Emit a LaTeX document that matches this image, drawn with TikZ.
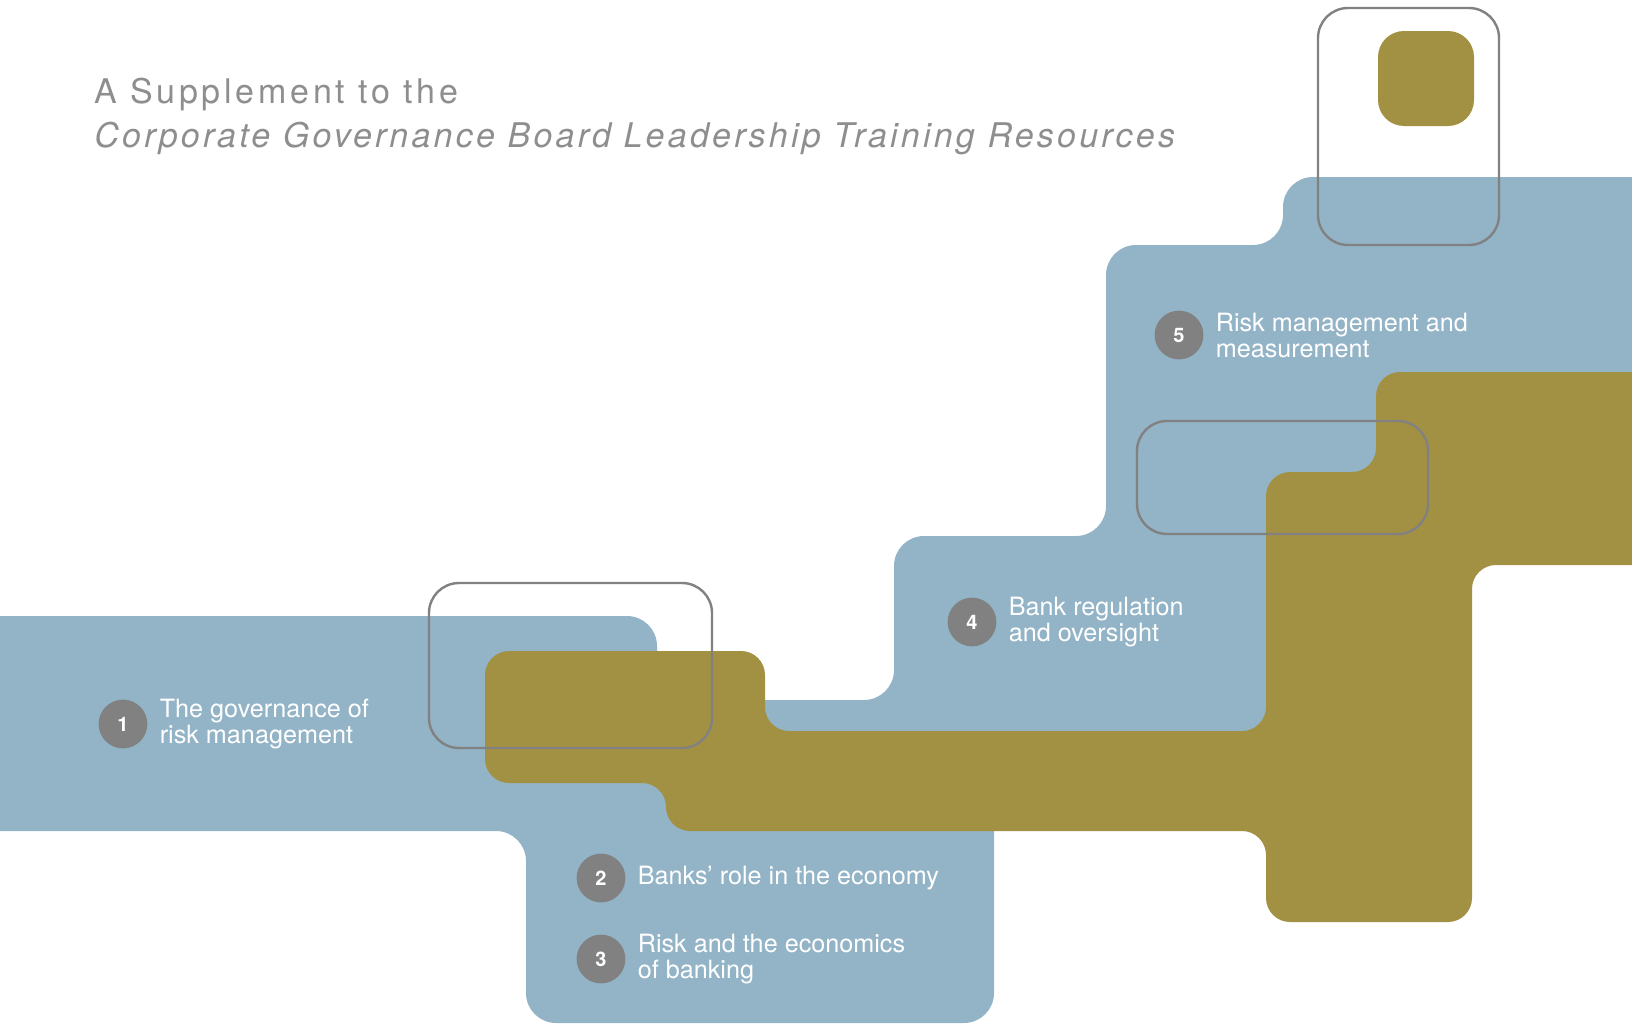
\documentclass[tikz,border=0pt]{standalone}
\usepackage{fontspec}
\setmainfont{TeX Gyre Heros}
\newfontfamily\headfont[LetterSpace=11]{TeX Gyre Heros}
\newfontfamily\subheadfont[LetterSpace=9.5]{TeX Gyre Heros}
\usetikzlibrary{positioning}

\definecolor{bandblue}{HTML}{93B4C7}
\definecolor{bandolive}{HTML}{A39143}
\definecolor{markgray}{HTML}{818181}
\definecolor{headgray}{HTML}{8E8E8E}

\begin{document}
\begin{tikzpicture}[x=0.5pt, y=-0.5pt,
    topic/.style={circle, fill=markgray, minimum size=24.4pt, inner sep=0pt,
      text=white, font=\bfseries\fontsize{10}{10}\selectfont},
    topictext/.style={right=5.8pt of #1, inner sep=0pt, align=left,
      text=white, font=\fontsize{12.6}{13}\selectfont},
    openbox/.style={draw=markgray, line width=1.2pt, rounded corners=15pt},
    headline/.style={anchor=base west, inner sep=0pt, text=headgray}]
  \useasboundingbox (0,0) rectangle (1632,1023);

  % blue band, steps up to the right (parts under the olive are hidden)
  \fill [bandblue, rounded corners=15pt]
    (-40,616) -- (657,616) -- (657,700) -- (894,700) -- (894,536)
    -- (1106,536) -- (1106,245) -- (1283,245) -- (1283,177) -- (1680,177)
    -- (1680,500) -- (1320,500) -- (1320,780) -- (994,780) -- (994,1023)
    -- (526,1023) -- (526,831) -- (-40,831) -- cycle;

  % olive band on top of it
  \fill [bandolive, rounded corners=12pt]
    (485,651) -- (765,651) -- (765,731) -- (1266,731) -- (1266,472)
    -- (1376,472) -- (1376,372) -- (1680,372) -- (1680,565) -- (1472,565)
    -- (1472,922) -- (1266,922) -- (1266,831) -- (666,831) -- (666,783)
    -- (485,783) -- cycle;
  \fill [bandolive, rounded corners=13pt] (1378,31) rectangle (1474,126);

  % open frames
  \draw [openbox] (429,583) rectangle (712,748);
  \draw [openbox] (1137,421) rectangle (1428,534);
  \draw [openbox] (1318,8) rectangle (1499,245);

  % title
  \node [headline, font=\headfont\fontsize{17}{17}\selectfont]
    (head1) at (94,103) {A Supplement to the};
  \node [headline, font=\subheadfont\itshape\fontsize{17}{17}\selectfont]
    (head2) at (94,147.5)
    {Corporate Governance Board Leadership Training Resources};

  % numbered topics
  \node [topic] (t1) at (123,724) {1};
  \node [topic] (t2) at (601,878) {2};
  \node [topic] (t3) at (601,959) {3};
  \node [topic] (t4) at (972,622) {4};
  \node [topic] (t5) at (1179,335) {5};

  \node [topictext=t1] (t1_text) {The governance of\\risk management};
  \node [topictext=t2] (t2_text) {Banks’ role in the economy};
  \node [topictext=t3] (t3_text) {Risk and the economics\\of banking};
  \node [topictext=t4] (t4_text) {Bank regulation\\and oversight};
  \node [topictext=t5] (t5_text) {Risk management and\\measurement};
\end{tikzpicture}
\end{document}
